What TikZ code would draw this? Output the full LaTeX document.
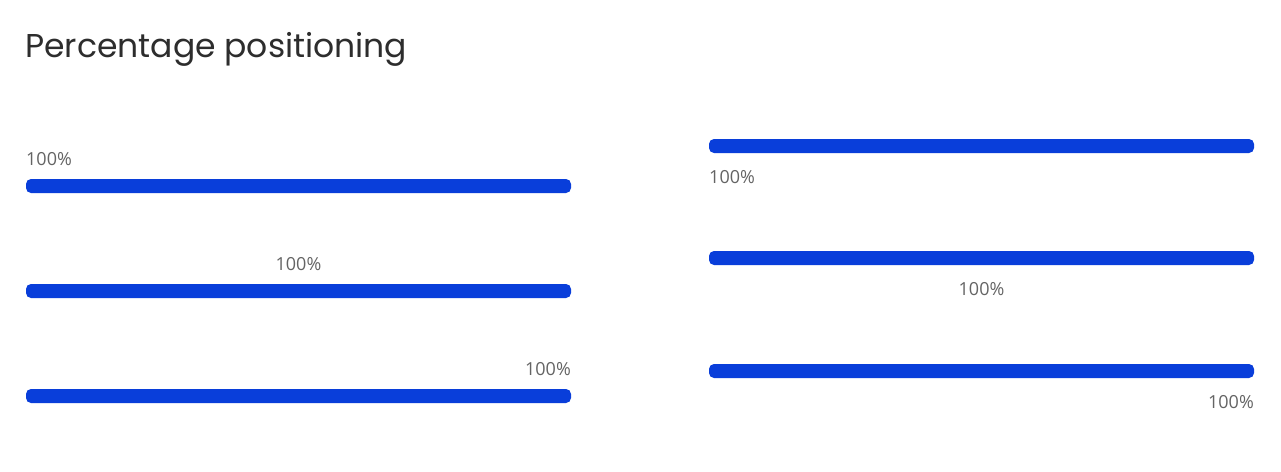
\documentclass[tikz,border=0pt]{standalone}
\usepackage{fontspec}
\setmainfont{Open Sans}
\newfontfamily\titlefont{Poppins}
\definecolor{barblue}{RGB}{9,62,218}
\definecolor{titlegray}{RGB}{45,45,45}
\definecolor{labelgray}{RGB}{100,100,100}
\begin{document}
\begin{tikzpicture}[x=1pt,y=-1pt,
  bar/.style={fill=barblue,draw=none,rounded corners=5pt,minimum width=545pt,minimum height=14pt,inner sep=0pt,outer sep=0pt},
  lbl/.style={text=labelgray,font=\fontsize{18}{20}\selectfont,inner sep=0pt},
  title/.style={text=titlegray,font=\titlefont\fontsize{33}{38}\selectfont,inner sep=0pt}]
\useasboundingbox[fill=white] (0,0) rectangle (1281,471);
\node[title,anchor=base west] (t) at (25,57) {Percentage positioning};
% left column
\node[bar,anchor=west] (b1) at (26,186) {};
\node[bar,anchor=west] (b2) at (26,291) {};
\node[bar,anchor=west] (b3) at (26,396) {};
\node[lbl,anchor=base west] (l1) at ([yshift=14pt]b1.north west) {100\%};
\node[lbl,anchor=base] (l2) at ([yshift=14pt]b2.north) {100\%};
\node[lbl,anchor=base east] (l3) at ([yshift=14pt]b3.north east) {100\%};
% right column
\node[bar,anchor=west] (r1) at (709,146) {};
\node[bar,anchor=west] (r2) at (709,258) {};
\node[bar,anchor=west] (r3) at (709,371) {};
\node[lbl,anchor=base west] (m1) at ([yshift=-44pt]r1.north west) {100\%};
\node[lbl,anchor=base] (m2) at ([yshift=-44pt]r2.north) {100\%};
\node[lbl,anchor=base east] (m3) at ([yshift=-44pt]r3.north east) {100\%};
\end{tikzpicture}
\end{document}
